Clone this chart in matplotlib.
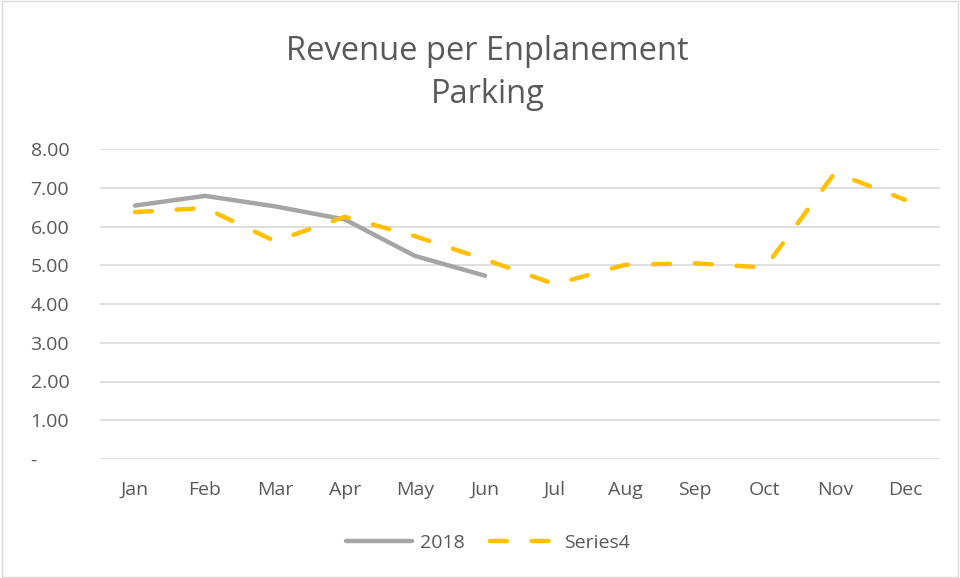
import matplotlib.pyplot as plt
import numpy as np

months = ["Jan", "Feb", "Mar", "Apr", "May", "Jun", "Jul", "Aug", "Sep", "Oct", "Nov", "Dec"]
rev_2018 = [6.54, 6.79, 6.52, 6.18, 5.24, 4.73]
series4 = [6.37, 6.48, 5.62, 6.25, 5.75, 5.15, 4.51, 5.01, 5.05, 4.94, 7.39, 6.69]
yticks = [0, 1, 2, 3, 4, 5, 6, 7, 8]
ytick_labels = ["-", "1.00", "2.00", "3.00", "4.00", "5.00", "6.00", "7.00", "8.00"]

plt.rcParams['font.family'] = ['Open Sans', 'DejaVu Sans']
text_color = "#595959"

fig = plt.figure(figsize=(9.6, 5.78), dpi=100)
ax = fig.add_axes([100 / 960, 1 - 459 / 578, 840 / 960, 310 / 578])

x = np.arange(len(months))
ax.plot(x[:len(rev_2018)], rev_2018, color="#A5A5A5", lw=3.2, solid_capstyle="round",
        label="2018", zorder=3)
ax.plot(x, series4, color="#FFC000", lw=3.2, dashes=(3.8, 5.6), dash_capstyle="round",
        label="Series4", zorder=4)

ax.set_xlim(-0.5, 11.5)
ax.set_ylim(0, 8)
ax.set_xticks(x)
ax.set_xticklabels(months)
ax.set_yticks(yticks)
ax.set_yticklabels(ytick_labels)
ax.tick_params(axis="both", length=0, labelsize=14, labelcolor=text_color)
ax.tick_params(axis="x", pad=16)
ax.tick_params(axis="y", pad=50)
for lab in ax.get_yticklabels():
    lab.set_horizontalalignment("left")
ax.yaxis.grid(True, color="#D9D9D9", lw=1.2)
ax.set_axisbelow(True)
for s in ax.spines.values():
    s.set_visible(False)

fig.text(0.508, 1 - 73 / 578, "Revenue per Enplanement\nParking", ha="center", va="center",
         fontsize=23.5, color=text_color, linespacing=1.4)

leg = fig.legend(loc="center", bbox_to_anchor=(0.508, 1 - 543 / 578), ncol=2, frameon=False,
                 fontsize=14, handlelength=3.4, columnspacing=1.3, handletextpad=0.4)
for t in leg.get_texts():
    t.set_color(text_color)

border = plt.Rectangle((0.002, 0.002), 0.996, 0.996, transform=fig.transFigure,
                       fill=False, edgecolor="#D9D9D9", lw=1)
fig.patches.append(border)

fig.savefig("out.png", dpi=100)
